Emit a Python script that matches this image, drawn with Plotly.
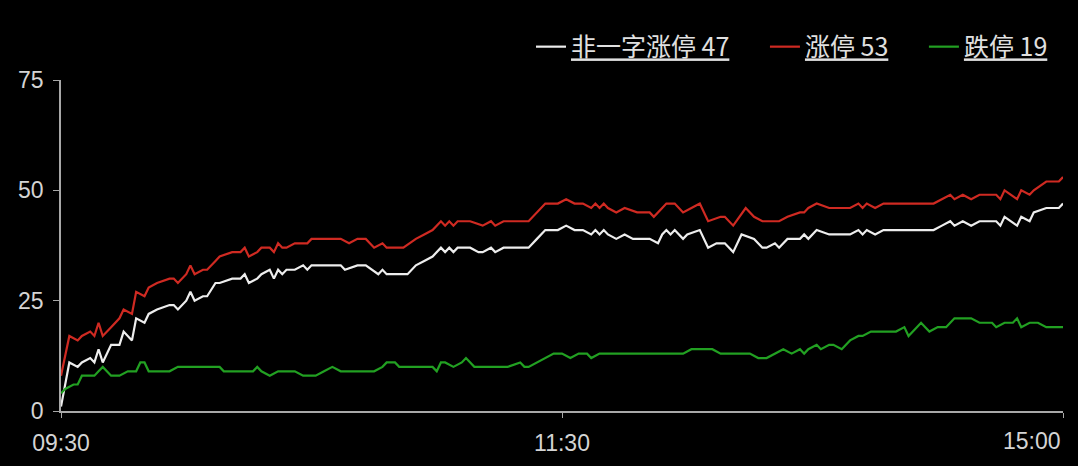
import plotly.graph_objects as go

# minute index from 09:30 (0) .. 11:30 (120) / 13:00 .. 15:00 (240)
tick_pos = [0, 120, 240]
tick_text = ["09:30", "11:30", "15:00"]

names = ["非一字涨停 47", "涨停 53", "跌停 19"]

red_x = [0, 2, 4, 5, 7, 8, 9, 10, 12, 14, 15, 17, 18, 20, 21, 23, 26, 27, 28, 30, 31, 32, 34, 35, 37, 38, 41, 43, 44, 45, 47, 48,
         50, 51, 52, 53, 54, 56, 58, 59, 60, 67, 69, 71, 73, 75, 77, 78, 82, 85, 87, 89, 91, 92, 93, 94, 95, 96, 98,
         101, 103, 104, 106, 112, 114, 116, 119, 121, 123, 125, 127, 128, 129, 130, 131, 133, 135, 138, 141, 142, 144,
         145, 147, 149, 151, 153, 155, 158, 159, 161, 164, 166, 168, 169, 171, 172, 174, 177, 178, 179, 181, 184, 189,
         191, 192, 193, 195, 197, 209, 211, 213, 214, 216, 218, 220, 224, 225, 226, 229, 230, 232, 233, 236, 239, 240]
red_y = [8, 17, 16, 17, 18, 17, 20, 17, 19, 21, 23, 22, 27, 26, 28, 29, 30, 30, 29, 31, 33, 31, 32, 32, 34, 35, 36, 36, 37, 35, 36, 37,
         37, 36, 38, 37, 37, 38, 38, 38, 39, 39, 38, 39, 39, 37, 38, 37, 37, 39, 40, 41, 43, 42, 43, 42, 43, 43, 43,
         42, 43, 42, 43, 43, 45, 47, 47, 48, 47, 47, 46, 47, 46, 47, 46, 45, 46, 45, 45, 44, 46,
         47, 47, 45, 46, 47, 43, 44, 44, 42, 46, 44, 43, 43, 43, 43, 44, 45, 45, 46, 47, 46, 46,
         47, 46, 47, 46, 47, 47, 48, 49, 48, 49, 48, 49, 49, 48, 50, 48, 50, 49, 50, 52, 52, 53]

white_x = [0, 2, 4, 5, 7, 8, 9, 10, 12, 14, 15, 17, 18, 20, 21, 23, 26, 27, 28, 30, 31, 32, 34, 35, 37, 38, 41, 43, 44, 45, 47, 48,
           50, 51, 52, 53, 54, 56, 58, 59, 60, 67, 68, 71, 73, 76, 77, 78, 83, 85, 87, 89, 91, 92, 93, 94, 95, 96, 98,
           100, 101, 103, 104, 106, 112, 114, 116, 119, 121, 123, 125, 127, 128, 129, 130, 131, 133, 135, 137, 141, 143,
           144, 145, 146, 147, 149, 150, 153, 155, 157, 159, 161, 163, 166, 168, 169, 171, 172, 174, 177, 178, 179, 181,
           184, 189, 191, 192, 193, 195, 197, 209, 211, 213, 214, 216, 218, 220, 224, 225, 226, 229, 230, 232, 233, 236, 239, 240]
white_y = [1, 11, 10, 11, 12, 11, 14, 11, 15, 15, 18, 16, 21, 20, 22, 23, 24, 24, 23, 25, 27, 25, 26, 26, 29, 29, 30, 30, 31, 29, 30, 31,
           32, 30, 32, 31, 32, 32, 33, 32, 33, 33, 32, 33, 33, 31, 32, 31, 31, 33, 34, 35, 37, 36, 37, 36, 37, 37, 37,
           36, 36, 37, 36, 37, 37, 39, 41, 41, 42, 41, 41, 40, 41, 40, 41, 40, 39, 40, 39, 39, 38,
           40, 41, 40, 41, 39, 40, 41, 37, 38, 38, 36, 40, 39, 37, 37, 38, 37, 39, 39, 40, 39, 41,
           40, 40, 41, 40, 41, 40, 41, 41, 42, 43, 42, 43, 42, 43, 43, 42, 44, 42, 44, 43, 45, 46, 46, 47]

green_x = [0, 1, 3, 4, 5, 8, 9, 10, 12, 14, 16, 18, 19, 20, 21, 23, 24, 26, 28, 38, 39, 46, 47, 48, 50, 52, 54, 56, 58, 61, 63,
           65, 67, 75, 77, 78, 80, 81, 87, 89, 90, 91, 92, 94, 96, 97, 99, 102, 107, 110, 111, 112, 114, 116, 118, 120,
           122, 124, 126, 127, 129, 149, 151, 156, 158, 165, 167, 169, 171, 173, 175, 177, 178, 179, 181, 182, 184, 185,
           187, 189, 191, 192, 194, 197, 200, 202, 203, 205, 206, 207, 208, 210, 212, 214, 217, 218, 220, 223, 224, 226,
           228, 229, 230, 232, 234, 236, 239, 240]
green_y = [4, 5, 6, 6, 8, 8, 9, 10, 8, 8, 9, 9, 11, 11, 9, 9, 9, 9, 10, 10, 9, 9, 10, 9, 8, 9, 9, 9, 8, 8, 9,
           10, 9, 9, 10, 11, 11, 10, 10, 10, 9, 11, 11, 10, 11, 12, 10, 10, 10, 11, 10, 10, 11, 12, 13, 13,
           12, 13, 13, 12, 13, 13, 14, 14, 13, 13, 12, 12, 13, 14, 13, 14, 13, 14, 15, 14, 15, 15,
           14, 16, 17, 17, 18, 18, 18, 19, 17, 19, 20, 19, 18, 19, 19, 21, 21, 21, 20, 20, 19, 20,
           20, 21, 19, 20, 20, 19, 19, 19]

colors = ["#ededed", "#cf2a22", "#22a022"]
tick_font = dict(family="Liberation Sans, Arial", size=23, color="#d4d4d4")

pad = "\u2003\u00a0"
fig = go.Figure()
series = [(white_x, white_y), (red_x, red_y), (green_x, green_y)]
for i, (nm, (xs, ys), col) in enumerate(zip(names, series, colors)):
    label = "<u>" + nm + "</u>" + (pad if i < len(names) - 1 else "")
    fig.add_trace(go.Scatter(x=xs, y=ys, mode="lines", name=label,
                             line=dict(color=col, width=2.2)))

# the last time label is right-aligned to the end of the axis (kept inside the chart)
tick_labels = tick_text[:-1] + [""]
fig.add_annotation(x=tick_pos[-1], xref="x", xanchor="right", y=0, yref="paper", yanchor="middle",
                   yshift=-30, text=tick_text[-1], showarrow=False, font=tick_font)

fig.update_layout(
    width=1078, height=466,
    paper_bgcolor="#000000", plot_bgcolor="#000000",
    margin=dict(l=61, r=15, t=80, b=55, autoexpand=False),
    showlegend=True,
    legend=dict(orientation="h", x=0.99, xanchor="right", y=1.1, yanchor="middle",
                font=dict(family="Noto Sans CJK SC", size=25, color="#e0e0e0"),
                bgcolor="rgba(0,0,0,0)", itemwidth=30, traceorder="normal"),
    font=dict(family="Liberation Sans, Arial", size=23, color="#d4d4d4"),
)
fig.update_xaxes(range=[0, 240], tickvals=tick_pos, ticktext=tick_labels,
                 automargin=False,
                 showgrid=False, zeroline=False, showline=True, linecolor="#a8a8a8", linewidth=1.5,
                 ticks="outside", ticklen=5, tickcolor="#a8a8a8", tickwidth=1.2, ticklabelstandoff=6,
                 tickfont=tick_font)
fig.update_yaxes(range=[0, 75], tickvals=[0, 25, 50, 75], automargin=False,
                 showgrid=False, zeroline=False, showline=True, linecolor="#a8a8a8", linewidth=1.5,
                 ticks="outside", ticklen=6, tickcolor="#a8a8a8", tickwidth=1.2, ticklabelstandoff=5,
                 tickfont=tick_font)

fig.write_html("out.html", config={"displayModeBar": False},
               post_script="document.body.style.margin='0px';document.body.style.background='#000';")
